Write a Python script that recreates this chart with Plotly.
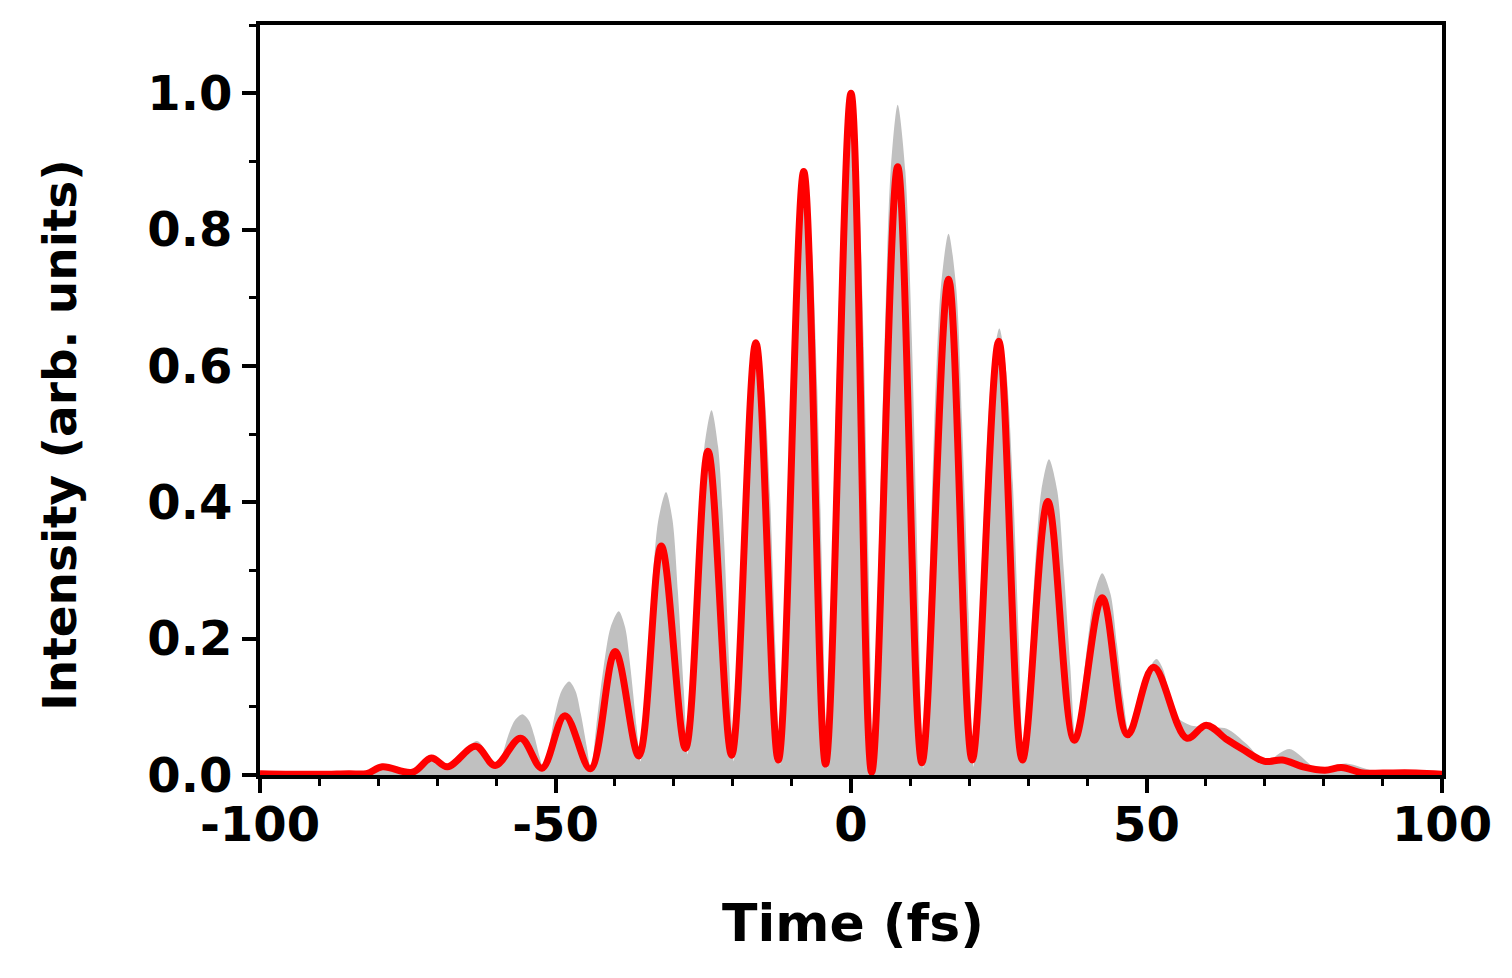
import plotly.graph_objects as go

gray_time = [-100, -90, -85, -82, -79, -75, -71, -68, -63.3, -60,
             -59.1, -58.0, -56.9, -55.6, -54.5, -53.6, -52.7, -52,
             -51.1, -50.1, -49.0, -47.7, -46.6, -45.7, -44.7, -44,
             -43.1, -41.9, -40.7, -39.3, -38.2, -37.3, -36.3, -35.6,
             -34.7, -33.7, -32.6, -31.3, -30.2, -29.3, -28.3, -27.6,
             -26.8, -25.8, -24.8, -23.6, -22.5, -21.5, -20.6, -19.8,
             -19.0, -18.0, -17.0, -15.8, -14.7, -13.7, -12.8, -12,
             -11.2, -10.1, -9.1, -7.8, -6.7, -5.7, -4.8, -4,
             -3.2, -2.2, -1.2, 0, 1.1, 2.1, 3.0, 3.8,
             4.6, 5.7, 6.7, 7.9, 9.2, 10.3, 11.3, 12.2,
             13.1, 14.1, 15.2, 16.5, 17.8, 18.8, 19.9, 20.7,
             21.6, 22.7, 23.8, 25.1, 26.3, 27.4, 28.4, 29.2,
             30.1, 31.1, 32.2, 33.5, 34.9, 36.0, 37.1, 38,
             38.9, 40.0, 41.2, 42.5, 43.9, 45.0, 46.1, 47,
             47.9, 49.1, 50.3, 51.7, 52.9, 54.0, 55.1, 57.4, 60, 63.6,
             67, 70, 74.2, 78.8, 83.8, 89, 94, 100]
gray_int = [0.004, 0.004, 0.004, 0.003, 0.012, 0.004, 0.025, 0.012, 0.05, 0.012,
            0.027, 0.058, 0.080, 0.089, 0.080, 0.058, 0.027, 0.008,
            0.041, 0.089, 0.123, 0.137, 0.123, 0.089, 0.041, 0.008,
            0.072, 0.156, 0.216, 0.240, 0.216, 0.156, 0.072, 0.02,
            0.125, 0.270, 0.374, 0.415, 0.374, 0.270, 0.125, 0.03,
            0.161, 0.348, 0.482, 0.535, 0.482, 0.348, 0.161, 0.02,
            0.189, 0.410, 0.567, 0.630, 0.567, 0.410, 0.189, 0.015,
            0.261, 0.566, 0.783, 0.870, 0.783, 0.566, 0.261, 0.01,
            0.300, 0.650, 0.900, 1.0, 0.900, 0.650, 0.300, 0.005,
            0.295, 0.639, 0.885, 0.983, 0.885, 0.639, 0.295, 0.01,
            0.238, 0.516, 0.715, 0.794, 0.715, 0.516, 0.238, 0.012,
            0.197, 0.426, 0.590, 0.655, 0.590, 0.426, 0.197, 0.02,
            0.139, 0.301, 0.417, 0.463, 0.417, 0.301, 0.160, 0.05,
            0.110, 0.192, 0.266, 0.296, 0.266, 0.192, 0.110, 0.065,
            0.075, 0.110, 0.153, 0.170, 0.153, 0.110, 0.085, 0.073, 0.07, 0.068,
            0.045, 0.02, 0.038, 0.01, 0.017, 0.005, 0.007, 0.002]

# Red line (retrieved intensity): extrema
red_time = [-100, -90, -85, -82, -79.3, -74.2, -71, -68.3, -63.5, -60.2, -55.9, -52.3, -48.4,
            -44.1, -39.9, -35.9, -32.1, -28, -24.2, -20.2, -16.1, -12.3, -8, -4.3, 0, 3.5,
            7.9, 12, 16.5, 20.5, 25, 29, 33.3, 37.8, 42.5, 46.8, 51.2, 56.8, 60.1, 63.6, 66.4,
            70, 73, 76.5, 80.2, 83, 86.6, 90, 95.6, 100]
red_int = [0.002, 0.001, 0.002, 0.002, 0.012, 0.004, 0.025, 0.012, 0.042, 0.014, 0.054, 0.01,
           0.087, 0.009, 0.181, 0.028, 0.336, 0.039, 0.475, 0.029, 0.634, 0.022, 0.885, 0.016,
           1.0, 0.004, 0.892, 0.018, 0.727, 0.022, 0.636, 0.022, 0.401, 0.051, 0.26, 0.059,
           0.158, 0.054, 0.073, 0.052, 0.037, 0.02, 0.022, 0.012, 0.007, 0.011, 0.003, 0.003,
           0.003, 0.001]

x_ticks = [-100, -50, 0, 50, 100]
x_labels = ["-100", "-50", "0", "50", "100"]
y_ticks = [0.0, 0.2, 0.4, 0.6, 0.8, 1.0]
y_labels = ["0.0", "0.2", "0.4", "0.6", "0.8", "1.0"]
x_title = "Time (fs)"
y_title = "Intensity (arb. units)"

FONT = "DejaVu Sans"

fig = go.Figure()
fig.add_trace(go.Scatter(
    x=gray_time, y=gray_int, mode="lines", line=dict(width=0, shape="spline", smoothing=0.8),
    fill="tozeroy", fillcolor="#c0c0c0", hoverinfo="skip", showlegend=False))
fig.add_trace(go.Scatter(
    x=red_time, y=red_int, mode="lines",
    line=dict(color="#ff0000", width=7, shape="spline", smoothing=1.0), showlegend=False))

axis_common = dict(
    showgrid=False, zeroline=False, showline=True, linecolor="black", linewidth=4,
    mirror=True, ticks="outside", tickcolor="black", tickwidth=4,
    tickfont=dict(family=FONT, size=48, color="black", weight="bold"),
)

fig.update_xaxes(
    **axis_common, range=[-100, 100], tickvals=x_ticks, ticktext=x_labels, ticklen=14,
    ticklabelstandoff=-10,
    minor=dict(dtick=10, ticks="outside", ticklen=7, tickwidth=3, tickcolor="black"),
)
fig.update_yaxes(
    **axis_common, range=[0, 1.1], tickvals=y_ticks, ticktext=y_labels, ticklen=14,
    minor=dict(dtick=0.1, ticks="outside", ticklen=7, tickwidth=3, tickcolor="black"),
)

fig.add_annotation(text="<b>" + x_title + "</b>", xref="paper", yref="paper",
                   x=0.5017, y=-0.197, xanchor="center", yanchor="middle", showarrow=False,
                   font=dict(family=FONT, size=52, color="black"))
fig.add_annotation(text="<b>" + y_title + "</b>", xref="paper", yref="paper",
                   x=-0.1703, y=0.4533, xanchor="center", yanchor="middle", showarrow=False,
                   textangle=-90, font=dict(family=FONT, size=47, color="black"))

fig.update_layout(
    width=1496, height=962, plot_bgcolor="white", paper_bgcolor="white",
    margin=dict(l=252, r=58, t=17, b=195),
)

fig.write_html("out.html")
